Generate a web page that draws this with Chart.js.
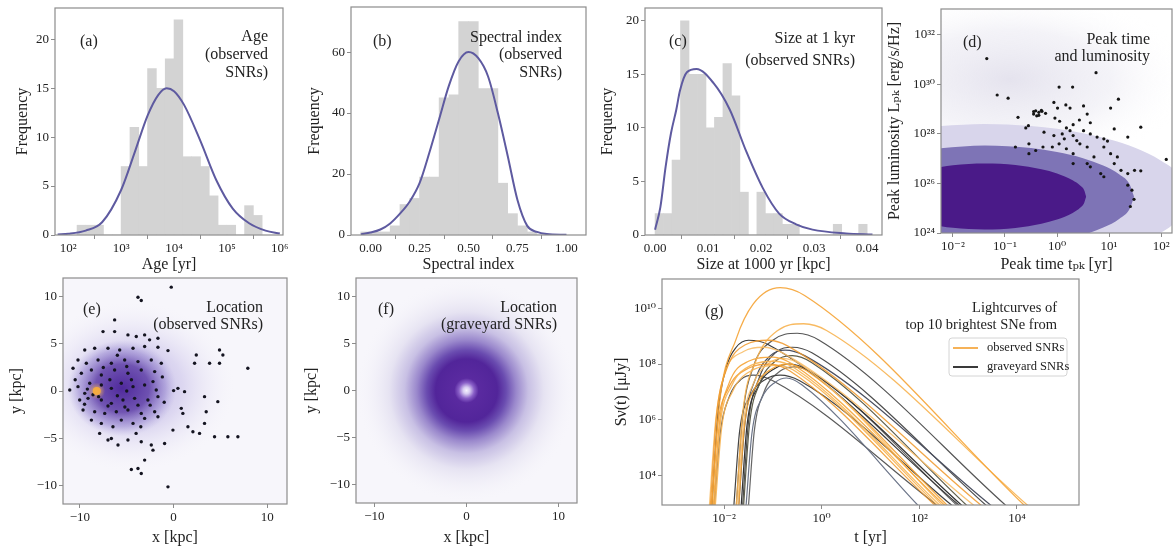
<!DOCTYPE html>
<html>
<head>
<meta charset="utf-8">
<script src="https://cdn.jsdelivr.net/npm/chart.js@4.4.1/dist/chart.umd.min.js"></script>
<style>
html, body { margin: 0; padding: 0; background: #fff; }
#wrap { position: relative; width: 1176px; height: 551px; overflow: hidden; }
#wrap canvas { position: absolute; left: 0; top: 0; }
</style>
</head>
<body>
<div id="wrap">
<canvas id="ca" width="1176" height="551"></canvas>
<canvas id="cb" width="1176" height="551"></canvas>
<canvas id="cc" width="1176" height="551"></canvas>
<canvas id="cd" width="1176" height="551"></canvas>
<canvas id="ce" width="1176" height="551"></canvas>
<canvas id="cf" width="1176" height="551"></canvas>
<canvas id="cg" width="1176" height="551"></canvas>
</div>
<script>
// (a) age histogram, bins in log10(age / yr)
const ageBins   = [2.250, 2.417, 2.583, 2.750, 2.917, 3.083, 3.250, 3.417, 3.583, 3.750, 3.917, 4.083, 4.250, 4.417, 4.583, 4.750, 4.917, 5.083, 5.250, 5.417, 5.583];
const ageCounts = [1, 1, 1, 0, 0, 7, 11, 7, 17, 15, 18, 22, 8, 8, 7, 4, 1, 1, 0, 3, 2];
const ageFitX   = [1.8, 2.0, 2.33, 2.64, 3.0, 3.26, 3.5, 3.7, 3.86, 4.0, 4.19, 4.5, 4.8, 5.11, 5.42, 5.73, 6.0];
const ageFitY   = [0.05, 0.12, 0.45, 1.3, 4.6, 8.5, 12.2, 14.3, 15.0, 14.7, 13.3, 9.6, 5.6, 2.7, 1.2, 0.45, 0.15];
const ageTicks  = [2, 3, 4, 5, 6];

// (b) spectral index histogram
const specBins   = [-0.025, 0.025, 0.075, 0.125, 0.175, 0.225, 0.275, 0.325, 0.375, 0.425, 0.475, 0.525, 0.575, 0.625, 0.675, 0.725, 0.775, 0.825, 0.875, 0.925, 0.975];
const specCounts = [1, 1, 1, 3, 10, 12, 19, 19, 45, 46, 70, 70, 48, 48, 17, 7, 3, 1, 0, 0, 0];
const specFitX   = [-0.05, 0.0, 0.05, 0.1, 0.15, 0.2, 0.25, 0.3, 0.35, 0.4, 0.45, 0.5, 0.55, 0.6, 0.65, 0.7, 0.75, 0.8, 0.85, 0.9, 1.0];
const specFitY   = [0.2, 0.8, 1.8, 3.8, 7, 11, 17, 27, 38, 49, 57, 60, 58, 52, 40, 26, 11.5, 3, 1, 0.3, 0.05];
const specTicksX = [0, 0.25, 0.5, 0.75, 1.0];
const specTicksY = [0, 20, 40, 60];

// (c) size at 1 kyr histogram
const sizeBins   = [0.0008, 0.0024, 0.0040, 0.0056, 0.0072, 0.0088, 0.0104, 0.0120, 0.0136, 0.0152, 0.0168, 0.0184, 0.0200, 0.0216, 0.0232, 0.0248, 0.0264, 0.0280, 0.0296, 0.0312, 0.0328, 0.0344, 0.0360, 0.0376, 0.0392];
const sizeCounts = [2, 2, 7, 20, 15, 15, 10, 11, 16, 13, 4, 0, 4, 2, 2, 1, 1, 0, 0, 0, 0, 1, 0, 0, 1];
const sizeFitX   = [0.0, 0.001, 0.002, 0.003, 0.004, 0.0047, 0.006, 0.0078, 0.011, 0.0141, 0.0172, 0.0203, 0.0234, 0.0266, 0.0297, 0.036, 0.041];
const sizeFitY   = [0.5, 2.6, 6.4, 9.5, 11.7, 13.5, 15.2, 15.5, 14.2, 11.7, 7.8, 4.4, 2.0, 1.0, 0.5, 0.15, 0.05];
const sizeTicksX = [0, 0.01, 0.02, 0.03, 0.04];
const freqTicks  = [0, 5, 10, 15, 20];

// (d) peak time / luminosity: log10 values
const pkLogT = [-1.35,-1.15,-0.94,0.04,0.30,0.75,1.18,-0.75,-0.55,-0.45,-0.41,-0.35,-0.29,-0.22,-0.39,-0.06,0.01,0.17,0.25,0.51,0.58,1.03,-0.04,0.05,0.43,0.64,0.31,-0.60,-0.25,-0.06,0.10,0.14,0.18,0.25,0.31,0.38,0.51,0.64,0.77,0.90,0.97,1.10,1.36,1.61,2.10,-0.54,-0.41,-0.27,0.18,0.31,0.44,0.58,0.71,0.90,1.03,1.16,0.58,0.64,0.84,0.90,1.10,1.23,1.36,1.49,1.61,1.36,1.44,1.48,1.41,-0.09,0.04,0.31,-0.80,-0.54,-0.35,-0.30,-0.45];
const pkLogL = [31.04,29.57,29.44,29.89,29.89,30.47,29.40,28.67,28.33,28.80,28.93,28.87,28.91,28.83,28.73,29.27,29.04,29.17,29.04,29.13,28.80,29.04,28.64,28.51,28.56,28.45,28.37,28.24,28.07,27.93,28.00,27.80,28.24,28.13,27.93,27.73,28.13,28.00,27.87,27.80,27.71,28.20,27.87,28.27,26.97,27.60,27.33,27.47,27.40,27.20,27.60,27.47,27.07,27.47,27.20,27.07,26.80,26.67,26.40,26.27,26.80,26.53,26.40,26.53,26.51,25.93,25.73,25.36,25.07,27.47,27.60,26.80,27.47,27.20,28.75,28.95,28.90];
// density contours (log10 t, upper / lower log10 L)
const darkEdgeT   = [-2.4, -2.0, -1.39, -0.8, -0.3, 0.0, 0.3, 0.45, 0.52, 0.56];
const darkUpperL  = [26.61, 26.73, 26.80, 26.74, 26.57, 26.40, 26.13, 25.91, 25.74, 25.47];
const darkLowerL  = [24.33, 24.21, 24.14, 24.20, 24.37, 24.54, 24.81, 25.03, 25.20, 25.47];
const midEdgeT    = [-2.4, -1.39, -0.5, 0.0, 0.5, 0.9, 1.2, 1.4, 1.48];
const midUpperL   = [27.40, 27.53, 27.43, 27.27, 27.02, 26.71, 26.36, 25.95, 25.47];
const midLowerL   = [23.54, 23.41, 23.51, 23.67, 23.92, 24.23, 24.58, 24.99, 25.47];
const lightEdgeT  = [-2.4, -1.39, -0.5, 0.0, 0.5, 1.0, 1.5, 2.0, 2.3, 2.5];
const lightUpperL = [28.30, 28.40, 28.32, 28.21, 28.03, 27.78, 27.44, 26.92, 26.42, 25.6];
const lightLowerL = [22.64, 22.54, 22.62, 22.73, 22.91, 23.16, 23.50, 24.02, 24.52, 25.3];
const pkTicksT = [-2, -1, 0, 1, 2];
const pkTicksL = [24, 26, 28, 30, 32];

// (e) observed SNR positions [kpc]
const obsX = [-0.25,-3.80,-3.45,-6.29,-7.53,-6.29,-4.87,-3.98,-3.09,-2.56,-1.67,-9.48,-8.42,-7.00,-5.75,-4.33,-3.09,-1.67,-0.60,-10.20,-9.31,-8.06,-6.64,-5.22,-3.80,-2.38,-1.31,-10.73,-9.84,-8.77,-7.71,-6.29,-4.87,-3.45,-2.02,-11.08,-10.20,-9.48,-8.95,-7.71,-6.64,-5.58,-4.33,-3.09,-1.85,-10.02,-9.13,-7.71,-6.64,-5.40,-4.16,-2.74,-1.67,-9.66,-8.42,-7.35,-6.11,-4.87,-3.45,-2.02,-8.77,-7.71,-6.47,-5.58,-4.33,-3.09,-1.67,-7.89,-6.64,-5.93,-4.87,-3.45,-2.38,-0.96,-7.00,-2.20,-3.09,-3.80,-3.45,-4.51,-0.60,0.00,0.46,1.17,0.99,2.42,3.30,3.48,3.30,2.24,3.84,4.90,4.90,5.26,7.92,1.53,2.06,2.77,4.37,4.72,5.79,6.86,-0.07,0.82,-5.0,-6.0,-4.5,-7.0,-5.2,-3.8,-6.8,-8.6,-9.2,-8.0,-2.5,-2.2,-3.5,-5.0,-6.0,-7.5,-4.0,-1.0,-1.2,-9.5,-10.5];
const obsY = [11.03,9.96,9.61,7.55,6.31,6.31,5.96,5.78,5.96,5.43,5.60,4.36,4.54,4.54,4.36,4.54,4.72,4.65,4.29,3.30,2.94,3.30,2.94,3.30,3.12,3.30,2.94,2.41,1.88,2.23,1.70,2.23,1.88,2.23,2.06,0.11,0.46,-0.25,0.82,0.64,0.28,0.82,0.46,0.64,0.11,-0.96,-0.78,-0.96,-1.31,-0.96,-0.78,-0.96,-0.60,-2.02,-2.20,-2.38,-2.20,-2.02,-2.38,-2.20,-3.09,-3.44,-3.79,-3.09,-3.44,-2.91,-2.73,-4.50,-5.04,-5.74,-5.21,-5.39,-5.74,-5.57,-5.21,-6.28,-7.34,-8.23,-8.76,-8.33,-10.18,0.04,0.28,-0.07,-2.38,3.83,-0.60,-2.20,-3.44,2.94,2.94,2.94,4.36,3.83,2.41,-3.79,-4.33,-4.50,-4.86,-1.13,-4.86,-4.86,-4.15,-1.84,0.0,-0.5,1.2,-1.6,-1.7,-1.5,1.2,-0.4,0.2,-0.6,-1.5,1.0,-3.8,2.6,3.8,2.5,-4.5,-1.2,1.5,-1.4,1.2];
const sunPos = [-8.2, 0.0];
const locTicksX = [-10, 0, 10];
const locTicksY = [-10, -5, 0, 5, 10];

// (g) lightcurves: [log10 t/yr, log10 S/uJy]
const observedCurves = [
  [[-2.25,2.9],[-2.1,6.5],[-1.75,8.9],[-1.4,10.15],[-0.85,10.73],[-0.35,10.45],[4.18,2.9]],
  [[-1.75,2.9],[-1.62,6.2],[-1.35,8.1],[-0.9,9.2],[-0.37,9.44],[0.1,9.2],[4.25,2.9]],
  [[-2.28,2.9],[-2.15,6.2],[-1.95,7.8],[-1.55,8.7],[-1.1,8.85],[-0.7,8.65],[3.3,2.9]],
  [[-2.3,2.9],[-2.17,6.0],[-2.0,7.6],[-1.6,8.45],[-1.2,8.6],[-0.8,8.4],[3.15,2.9]],
  [[-2.22,2.9],[-2.1,5.8],[-1.9,7.3],[-1.5,8.1],[-1.0,8.25],[-0.6,8.0],[2.55,2.9]],
  [[-2.2,2.9],[-2.08,5.8],[-1.85,7.2],[-1.45,7.95],[-0.95,8.1],[-0.55,7.85],[2.45,2.9]],
  [[-2.26,2.9],[-2.13,5.8],[-1.92,7.1],[-1.5,7.85],[-1.05,8.0],[-0.65,7.75],[2.35,2.9]],
  [[-1.72,2.9],[-1.6,5.9],[-1.4,7.3],[-1.1,8.0],[-0.8,8.2],[-0.4,7.95],[2.5,2.9]],
  [[-1.7,2.9],[-1.58,5.8],[-1.35,7.2],[-1.0,7.85],[-0.7,8.0],[-0.3,7.75],[2.6,2.9]],
  [[-2.18,2.9],[-2.05,5.7],[-1.83,7.0],[-1.4,7.8],[-0.9,7.95],[-0.5,7.7],[2.4,2.9]]
];
const graveyardCurves = [
  [[-2.25,2.9],[-2.12,6.3],[-1.95,7.9],[-1.75,8.6],[-1.5,8.85],[-1.1,8.7],[2.85,2.9]],
  [[-1.75,2.9],[-1.62,6.1],[-1.4,7.9],[-1.0,8.85],[-0.5,9.1],[-0.05,8.85],[3.8,2.9]],
  [[-1.7,2.9],[-1.57,5.9],[-1.35,7.5],[-1.05,8.3],[-0.75,8.5],[-0.35,8.3],[3.5,2.9]],
  [[-1.6,2.9],[-1.48,5.8],[-1.27,7.3],[-0.95,8.1],[-0.6,8.3],[-0.2,8.05],[3.0,2.9]],
  [[-1.8,2.9],[-1.68,5.6],[-1.45,6.9],[-1.15,7.45],[-0.85,7.6],[-0.45,7.4],[2.7,2.9]],
  [[-1.55,2.9],[-1.43,5.5],[-1.22,6.8],[-0.95,7.35],[-0.72,7.5],[-0.4,7.25],[2.0,2.9]],
  [[-1.65,2.9],[-1.53,5.8],[-1.3,7.2],[-0.95,7.85],[-0.65,8.0],[-0.25,7.75],[2.9,2.9]],
  [[-2.2,2.9],[-2.08,5.5],[-1.9,6.8],[-1.65,7.45],[-1.4,7.6],[-1.0,7.4],[2.4,2.9]],
  [[-1.62,2.9],[-1.5,5.9],[-1.28,7.5],[-0.95,8.4],[-0.6,8.6],[-0.2,8.4],[3.4,2.9]],
  [[-1.5,2.9],[-1.38,5.6],[-1.18,7.0],[-0.85,7.75],[-0.55,7.9],[-0.15,7.65],[2.8,2.9]]
];
const lcTicksT = [-2, 0, 2, 4];
const lcTicksS = [4, 6, 8, 10];

// ---- styling ----
const FONT = "'Liberation Serif', 'DejaVu Serif', serif";
const FRAME = '#8c8c8c';
const INK = '#222';
const HIST = 'rgb(211,211,211)';
const FIT = 'rgb(94,90,160)';
const orangeShades = ['rgba(245,163,52,0.9)', 'rgba(247,178,80,0.9)', 'rgba(240,150,40,0.85)', 'rgba(248,190,105,0.9)'];
const grayShades = ['#3a3a3a', '#555555', '#4b5060', '#5e5e4a', '#444444', '#6b7488', '#333333', '#5a5a5a', '#4d4d4d', '#666666'];

const SUP = {'0':'⁰','1':'¹','2':'²','3':'³','4':'⁴','5':'⁵','6':'⁶','7':'⁷','8':'⁸','9':'⁹','-':'⁻'};
function pow10(e) { return '10' + String(e).split('').map(c => SUP[c]).join(''); }
const logLabel = v => pow10(Math.round(Math.log10(v)));
const minusLabel = v => String(v).replace('-', '\u2212');

function axis(c) {
  return {
    type: c.type || 'linear',
    min: c.min, max: c.max, offset: false,
    grid: { display: true, drawOnChartArea: false, drawTicks: true, tickLength: 4, tickColor: FRAME, color: FRAME },
    border: { display: false },
    ticks: { font: { family: FONT, size: 13 }, color: INK, padding: 2, maxRotation: 0, autoSkip: false, callback: c.fmt },
    title: { display: true, text: c.label, font: { family: FONT, size: 16 }, color: INK, padding: 0 },
    afterBuildTicks: s => { s.ticks = c.ticks.map(v => ({ value: v })); },
    afterFit: s => {
      if (s.isHorizontal()) s.height = c.size; else s.width = c.size;
      s.paddingLeft = s.paddingRight = s.paddingTop = s.paddingBottom = 0;
    }
  };
}

function drawBlob(chart, b) {
  const xs = chart.scales.x, ys = chart.scales.y, ctx = chart.ctx;
  const cx = xs.getPixelForValue(b.x), cy = ys.getPixelForValue(b.y);
  const rx = Math.abs(xs.getPixelForValue(b.x2) - cx), ry = Math.abs(ys.getPixelForValue(b.y2) - cy);
  ctx.save();
  ctx.translate(cx, cy);
  ctx.scale(1, ry / rx);
  const g = ctx.createRadialGradient(0, 0, 0, 0, 0, rx);
  b.stops.forEach(s => g.addColorStop(s[0], s[1]));
  ctx.fillStyle = g;
  ctx.fillRect(-rx, -rx, 2 * rx, 2 * rx);
  ctx.restore();
}

const deco = {
  id: 'deco',
  beforeDatasetsDraw(chart, args, o) {
    const a = chart.chartArea, ctx = chart.ctx;
    ctx.save();
    ctx.beginPath(); ctx.rect(a.left, a.top, a.width, a.height); ctx.clip();
    if (o.bg) { ctx.fillStyle = o.bg; ctx.fillRect(a.left, a.top, a.width, a.height); }
    (o.blobs || []).forEach(b => drawBlob(chart, b));
    ctx.restore();
  },
  afterDraw(chart, args, o) {
    const a = chart.chartArea, ctx = chart.ctx;
    ctx.save();
    ctx.strokeStyle = FRAME; ctx.lineWidth = 1.2;
    ctx.strokeRect(a.left, a.top, a.width, a.height);
    ctx.fillStyle = INK; ctx.textBaseline = 'middle';
    (o.notes || []).forEach(n => {
      ctx.font = (n.size || 16) + 'px ' + FONT;
      ctx.textAlign = n.align || 'left';
      ctx.fillText(n.text, n.x, n.y);
    });
    if (o.legend) {
      const L = o.legend;
      ctx.fillStyle = 'rgba(255,255,255,0.85)'; ctx.strokeStyle = '#d4d4d4'; ctx.lineWidth = 1;
      ctx.beginPath(); ctx.roundRect(L.x, L.y, L.w, L.h, 3); ctx.fill(); ctx.stroke();
      L.items.forEach(it => {
        ctx.strokeStyle = it.color; ctx.lineWidth = 2;
        ctx.beginPath(); ctx.moveTo(L.x + 4, it.y); ctx.lineTo(L.x + 29, it.y); ctx.stroke();
        ctx.fillStyle = INK; ctx.font = '12.5px ' + FONT; ctx.textAlign = 'left';
        ctx.fillText(it.text, L.x + 38, it.y);
      });
    }
    ctx.restore();
  }
};

function pad(area, ySize, xSize) {
  return { left: area[0] - ySize, top: area[1], right: 1176 - area[2], bottom: 551 - area[3] - xSize };
}
function baseOptions(area, xa, ya, decoOpts) {
  return {
    responsive: false, animation: false, events: [],
    layout: { padding: pad(area, ya.size, xa.size) },
    plugins: { legend: { display: false }, tooltip: { enabled: false }, deco: decoOpts },
    scales: { x: axis(xa), y: axis(ya) }
  };
}
const pts = (xs, ys) => xs.map((v, i) => ({ x: v, y: ys[i] }));
const logPts = (xs, ys) => xs.map((v, i) => ({ x: 10 ** v, y: 10 ** ys[i] }));
function fitLine(xs, ys) {
  return { type: 'line', data: pts(xs, ys), borderColor: FIT, borderWidth: 2, pointRadius: 0, cubicInterpolationMode: 'monotone', fill: false };
}
function histBars(xs, ys) {
  return { type: 'bar', data: pts(xs, ys), backgroundColor: HIST, borderWidth: 0, barPercentage: 1, categoryPercentage: 1 };
}
function notes3(label, lx, ly, lines, rx, ys, size) {
  const n = [{ text: label, x: lx, y: ly }];
  lines.forEach((t, i) => n.push({ text: t, x: rx, y: ys[i], align: 'right', size: size }));
  return n;
}

// (a)
new Chart(document.getElementById('ca'), {
  type: 'bar',
  data: { datasets: [fitLine(ageFitX, ageFitY), histBars(ageBins, ageCounts)] },
  options: baseOptions([55, 8, 283, 235],
    { min: 1.75, max: 6.06, ticks: ageTicks, fmt: v => pow10(v), label: 'Age [yr]', size: 39 },
    { min: 0, max: 23.2, ticks: freqTicks, label: 'Frequency', size: 42 },
    { notes: notes3('(a)', 80, 42, ['Age', '(observed', 'SNRs)'], 268, [37, 55, 73]) }),
  plugins: [deco]
});

// (b)
new Chart(document.getElementById('cb'), {
  type: 'bar',
  data: { datasets: [fitLine(specFitX, specFitY), histBars(specBins, specCounts)] },
  options: baseOptions([351, 7, 586, 235],
    { min: -0.1, max: 1.1, ticks: specTicksX, fmt: v => v.toFixed(2), label: 'Spectral index', size: 39 },
    { min: 0, max: 74.8, ticks: specTicksY, label: 'Frequency', size: 46 },
    { notes: notes3('(b)', 373, 42, ['Spectral index', '(observed', 'SNRs)'], 562, [38, 55, 73]) }),
  plugins: [deco]
});

// (c)
new Chart(document.getElementById('cc'), {
  type: 'bar',
  data: { datasets: [fitLine(sizeFitX, sizeFitY), histBars(sizeBins, sizeCounts)] },
  options: baseOptions([645, 8, 882, 235],
    { min: -0.0019, max: 0.0428, ticks: sizeTicksX, fmt: v => v.toFixed(2), label: 'Size at 1000 yr [kpc]', size: 39 },
    { min: 0, max: 21.2, ticks: freqTicks, label: 'Frequency', size: 47 },
    { notes: notes3('(c)', 669, 42, ['Size at 1 kyr', '(observed SNRs)'], 855, [39, 61]) }),
  plugins: [deco]
});

// (d)
function band(ts, up, lo, color) {
  const edge = { type: 'line', pointRadius: 0, borderWidth: 0, borderColor: 'transparent', cubicInterpolationMode: 'monotone' };
  return [
    Object.assign({}, edge, { data: logPts(ts, up), fill: false }),
    Object.assign({}, edge, { data: logPts(ts, lo), fill: '-1', backgroundColor: color })
  ];
}
new Chart(document.getElementById('cd'), {
  type: 'line',
  data: { datasets: [
    { data: logPts(pkLogT, pkLogL), showLine: false, pointRadius: 1.6, pointBackgroundColor: '#151515', pointBorderWidth: 0 },
    ...band(darkEdgeT, darkUpperL, darkLowerL, 'rgb(74,26,136)'),
    ...band(midEdgeT, midUpperL, midLowerL, 'rgb(126,116,182)'),
    ...band(lightEdgeT, lightUpperL, lightLowerL, 'rgb(216,213,235)')
  ] },
  options: baseOptions([941, 9, 1172, 233],
    { type: 'logarithmic', min: 10 ** -2.23, max: 10 ** 2.21, ticks: pkTicksT.map(e => 10 ** e), fmt: logLabel, label: 'Peak time t\u209a\u2096 [yr]', size: 41 },
    { type: 'logarithmic', min: 1e24, max: 10 ** 33.04, ticks: pkTicksL.map(e => 10 ** e), fmt: logLabel, label: 'Peak luminosity L\u209a\u2096 [erg/s/Hz]', size: 56 },
    { blobs: [{ x: 10 ** -0.9, y: 10 ** 30.2, x2: 10 ** 2.6, y2: 10 ** 33.8,
                stops: [[0, 'rgba(226,224,236,0.9)'], [0.55, 'rgba(236,235,243,0.6)'], [1, 'rgba(255,255,255,0)']] }],
      notes: notes3('(d)', 963, 43, ['Peak time', 'and luminosity'], 1150, [40, 57]) }),
  plugins: [deco]
});

// (e)
new Chart(document.getElementById('ce'), {
  type: 'scatter',
  data: { datasets: [
    { data: [{ x: sunPos[0], y: sunPos[1] }], pointRadius: 4, pointBackgroundColor: 'rgba(246,172,62,0.95)', pointBorderWidth: 0 },
    { data: pts(obsX, obsY), pointRadius: 1.7, pointBackgroundColor: '#141420', pointBorderWidth: 0 }
  ] },
  options: baseOptions([63, 278, 287, 504],
    { min: -11.8, max: 12.1, ticks: locTicksX, fmt: minusLabel, label: 'x [kpc]', size: 43 },
    { min: -12, max: 12, ticks: locTicksY, fmt: minusLabel, label: 'y [kpc]', size: 56 },
    { bg: '#f7f6fb',
      blobs: [
        { x: -4.5, y: 0.5, x2: 6.5, y2: 9.5, stops: [[0, 'rgba(135,115,200,0.6)'], [0.5, 'rgba(180,168,225,0.4)'], [1, 'rgba(240,238,248,0)']] },
        { x: -5.5, y: 0.3, x2: 0.3, y2: 5.4, stops: [[0, 'rgba(70,30,150,0.92)'], [0.5, 'rgba(86,52,162,0.78)'], [0.8, 'rgba(130,110,198,0.4)'], [1, 'rgba(170,160,220,0)']] },
        { x: sunPos[0], y: sunPos[1], x2: sunPos[0] + 0.9, y2: sunPos[1] + 0.9, stops: [[0, 'rgba(255,205,110,0.9)'], [1, 'rgba(245,170,60,0)']] }
      ],
      notes: notes3('(e)', 83, 310, ['Location', '(observed SNRs)'], 263, [308, 325]) }),
  plugins: [deco]
});

// (f)
new Chart(document.getElementById('cf'), {
  type: 'scatter',
  data: { datasets: [] },
  options: baseOptions([356, 278, 577, 503],
    { min: -12, max: 12, ticks: locTicksX, fmt: minusLabel, label: 'x [kpc]', size: 44 },
    { min: -12, max: 12, ticks: locTicksY, fmt: minusLabel, label: 'y [kpc]', size: 54 },
    { bg: '#f7f6fb',
      blobs: [{ x: 0, y: 0, x2: 12, y2: 12, stops: [
        [0, 'rgb(246,242,255)'], [0.03, 'rgb(216,204,242)'], [0.07, 'rgb(138,96,200)'], [0.11, 'rgb(90,42,160)'],
        [0.28, 'rgb(82,37,154)'], [0.36, 'rgb(106,76,176)'], [0.45, 'rgb(154,136,204)'], [0.56, 'rgb(200,192,228)'],
        [0.7, 'rgb(230,227,242)'], [1, 'rgba(247,246,251,0)'] ] }],
      notes: notes3('(f)', 378, 310, ['Location', '(graveyard SNRs)'], 557, [308, 325]) }),
  plugins: [deco]
});

// (g)
const lcSets = [];
observedCurves.forEach((c, i) => lcSets.push({ data: c.map(p => ({ x: 10 ** p[0], y: 10 ** p[1] })), borderColor: orangeShades[i % orangeShades.length], borderWidth: 1.3, pointRadius: 0, cubicInterpolationMode: 'monotone', fill: false }));
graveyardCurves.forEach((c, i) => lcSets.push({ data: c.map(p => ({ x: 10 ** p[0], y: 10 ** p[1] })), borderColor: grayShades[i], borderWidth: 1.2, pointRadius: 0, cubicInterpolationMode: 'monotone', fill: false }));
new Chart(document.getElementById('cg'), {
  type: 'line',
  data: { datasets: lcSets },
  options: baseOptions([662, 279, 1079, 505],
    { type: 'logarithmic', min: 10 ** -3.27, max: 10 ** 5.27, ticks: lcTicksT.map(e => 10 ** e), fmt: logLabel, label: 't [yr]', size: 42 },
    { type: 'logarithmic', min: 10 ** 2.96, max: 10 ** 11.04, ticks: lcTicksS.map(e => 10 ** e), fmt: logLabel, label: 'S\u03bd(t) [\u03bcJy]', size: 50 },
    { notes: notes3('(g)', 705, 312, ['Lightcurves of', 'top 10 brightest SNe from'], 1057, [308, 325], 14.5),
      legend: { x: 949, y: 338, w: 118, h: 38, items: [
        { text: 'observed SNRs', color: 'rgba(245,170,70,0.9)', y: 348 },
        { text: 'graveyard SNRs', color: '#3a3a3a', y: 367 } ] } }),
  plugins: [deco]
});
</script>
</body>
</html>
